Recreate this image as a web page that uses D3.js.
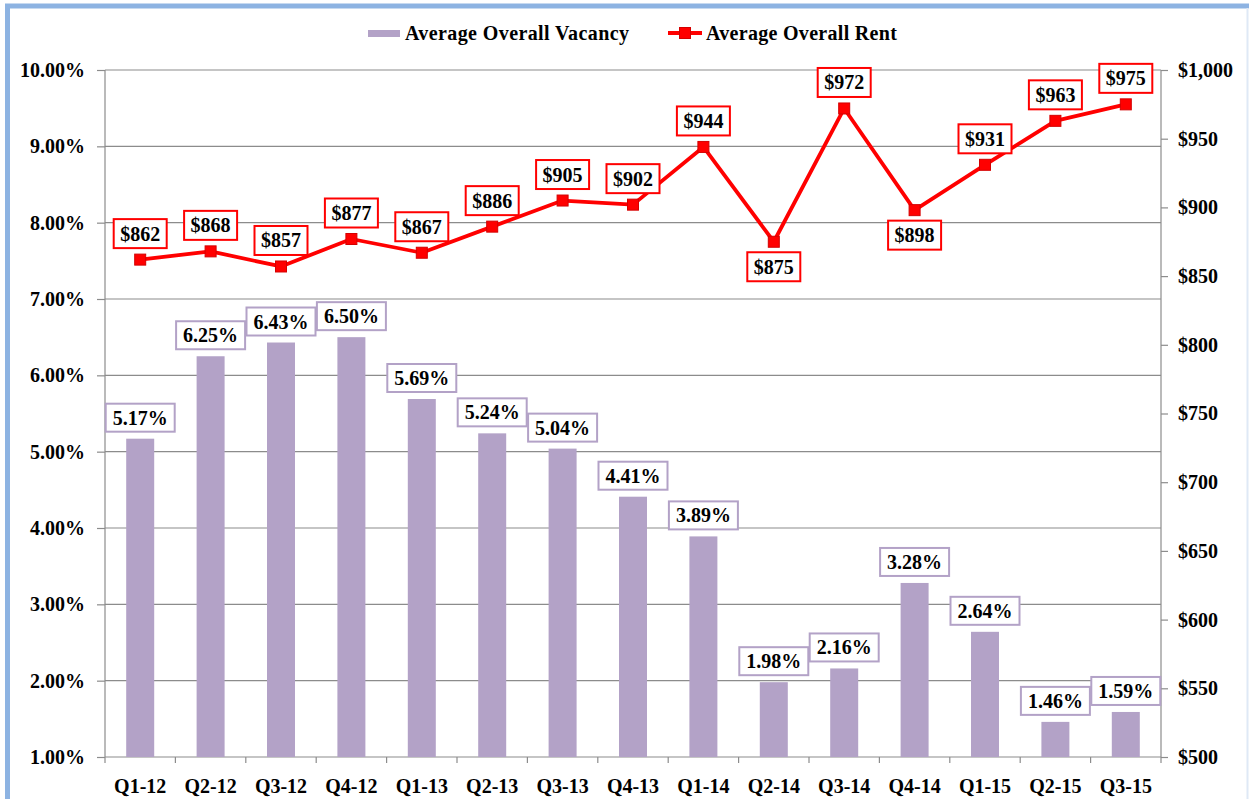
<!DOCTYPE html>
<html>
<head>
<meta charset="utf-8">
<script src="https://cdn.jsdelivr.net/npm/d3@7"></script>
<style>
  body { margin: 0; background: #fff; }
  svg text { font-family: "Liberation Serif", "Times New Roman", serif; font-weight: bold; fill: #000; }
</style>
</head>
<body>
<div id="chart"></div>
<script>
// data
let quarters = ["Q1-12", "Q2-12", "Q3-12", "Q4-12", "Q1-13", "Q2-13", "Q3-13", "Q4-13",
  "Q1-14", "Q2-14", "Q3-14", "Q4-14", "Q1-15", "Q2-15", "Q3-15"];
let vacancy = [5.17, 6.25, 6.43, 6.50, 5.69, 5.24, 5.04, 4.41, 3.89, 1.98, 2.16, 3.28, 2.64, 1.46, 1.59];
let rent = [862, 868, 857, 877, 867, 886, 905, 902, 944, 875, 972, 898, 931, 963, 975];
// labels drawn under the point instead of above
let rentBelow = ["Q2-14", "Q4-14"];
let vacancyTicks = [1, 2, 3, 4, 5, 6, 7, 8, 9, 10];
let rentTicks = [500, 550, 600, 650, 700, 750, 800, 850, 900, 950, 1000];

let width = 1249;
let height = 799;
let margin = {left: 105, right: 1161, top: 70, bottom: 757};
let fontFamily = "'Liberation Serif', 'Times New Roman', serif";

let barColor = "#b3a2c7";
let lineColor = "#ff0000";
let gridColor = "#8c8c8c";

let svg = d3.select("#chart").append("svg")
  .attr("width", width)
  .attr("height", height);

// blue frame round the picture
svg.append("path")
  .attr("d", "M7.5,800 V6 H1249")
  .attr("fill", "none")
  .attr("stroke", "#8db3e2")
  .attr("stroke-width", 5);
svg.append("line")
  .attr("x1", 1247.5).attr("x2", 1247.5).attr("y1", 8).attr("y2", 799)
  .attr("stroke", "#dfe9f6").attr("stroke-width", 2);

let x = d3.scaleBand()
  .domain(quarters)
  .range([margin.left, margin.right]);

let yLeft = d3.scaleLinear()
  .domain([1, 10])
  .range([margin.bottom, margin.top]);

let yRight = d3.scaleLinear()
  .domain([500, 1000])
  .range([margin.bottom, margin.top]);

// gridlines
svg.append("g")
  .selectAll("line")
  .data(vacancyTicks.slice(1))
  .enter().append("line")
    .attr("x1", margin.left)
    .attr("x2", margin.right)
    .attr("y1", d => yLeft(d))
    .attr("y2", d => yLeft(d))
    .attr("stroke", gridColor)
    .attr("stroke-width", 1.2);

// left axis
let leftAxis = svg.append("g")
  .attr("transform", "translate(" + margin.left + ",0)")
  .call(d3.axisLeft(yLeft).tickValues(vacancyTicks).tickSize(8).tickPadding(12)
    .tickFormat(d => d.toFixed(2) + "%"));

// right axis
let rightAxis = svg.append("g")
  .attr("transform", "translate(" + margin.right + ",0)")
  .call(d3.axisRight(yRight).tickValues(rentTicks).tickSize(7).tickPadding(10)
    .tickFormat(d => "$" + d3.format(",")(d)));

// bottom axis, ticks on band edges
let bottomAxis = svg.append("g")
  .attr("transform", "translate(0," + margin.bottom + ")")
  .call(d3.axisBottom(x).tickSize(0).tickPadding(22));
bottomAxis.selectAll(".tick line").remove();
bottomAxis.selectAll(".edge")
  .data(quarters.concat(["end"]))
  .enter().append("line")
    .attr("class", "edge")
    .attr("x1", (d, i) => margin.left + i * x.bandwidth())
    .attr("x2", (d, i) => margin.left + i * x.bandwidth())
    .attr("y1", 0)
    .attr("y2", 6)
    .attr("stroke", gridColor)
    .attr("stroke-width", 1.2);

[leftAxis, rightAxis, bottomAxis].forEach(function(g) {
  g.attr("font-family", null);
  g.selectAll(".domain").attr("stroke", gridColor).attr("stroke-width", 1.2);
  g.selectAll(".tick line").attr("stroke", gridColor).attr("stroke-width", 1.2);
  g.selectAll("text")
    .attr("font-size", 20)
    .style("font-family", fontFamily)
    .style("font-weight", "bold")
    .attr("fill", "#000");
});
leftAxis.select(".domain").attr("d", "M0," + margin.bottom + "V" + margin.top);
rightAxis.select(".domain").attr("d", "M0," + margin.bottom + "V" + margin.top);
bottomAxis.select(".domain").attr("d", "M" + margin.left + ",0H" + margin.right);

// bars
let barWidth = 28;
svg.append("g")
  .selectAll("rect")
  .data(quarters)
  .enter().append("rect")
    .attr("x", d => x(d) + x.bandwidth() / 2 - barWidth / 2)
    .attr("y", (d, i) => yLeft(vacancy[i]))
    .attr("width", barWidth)
    .attr("height", (d, i) => margin.bottom - yLeft(vacancy[i]))
    .attr("fill", barColor);

// rent line
let line = d3.line()
  .x(d => x(d.q) + x.bandwidth() / 2)
  .y(d => yRight(d.v));
let rentData = quarters.map((q, i) => ({q: q, v: rent[i]}));

svg.append("path")
  .datum(rentData)
  .attr("d", line)
  .attr("fill", "none")
  .attr("stroke", lineColor)
  .attr("stroke-width", 3.8)
  .attr("stroke-linejoin", "round");

let markerSize = 11;
svg.append("g")
  .selectAll("rect")
  .data(rentData)
  .enter().append("rect")
    .attr("x", d => x(d.q) + x.bandwidth() / 2 - markerSize / 2)
    .attr("y", d => yRight(d.v) - markerSize / 2)
    .attr("width", markerSize)
    .attr("height", markerSize)
    .attr("fill", lineColor)
    .attr("stroke", "#d40000")
    .attr("stroke-width", 1);

// boxed data labels
function boxLabel(g, cx, cy, txt, color, pad, boxH) {
  let lab = g.append("g");
  let box = lab.append("rect");
  let t = lab.append("text")
    .attr("x", cx)
    .attr("y", cy)
    .attr("dy", "0.35em")
    .attr("text-anchor", "middle")
    .attr("font-size", 20)
    .style("font-family", fontFamily)
    .text(txt);
  let w = t.node().getComputedTextLength() + pad;
  box.attr("x", cx - w / 2)
    .attr("y", cy - boxH / 2)
    .attr("width", w)
    .attr("height", boxH)
    .attr("fill", "#fff")
    .attr("stroke", color)
    .attr("stroke-width", 2);
}

let vacLabels = svg.append("g");
quarters.forEach(function(q, i) {
  boxLabel(vacLabels, x(q) + x.bandwidth() / 2, yLeft(vacancy[i]) - 21,
    vacancy[i].toFixed(2) + "%", barColor, 14, 28);
});

let rentLabels = svg.append("g");
rentData.forEach(function(d) {
  let below = rentBelow.indexOf(d.q) >= 0;
  let cy = below ? yRight(d.v) + 25 : yRight(d.v) - 26;
  boxLabel(rentLabels, x(d.q) + x.bandwidth() / 2, cy, "$" + d.v, lineColor, 13, 29);
});

// legend
let legend = svg.append("g").attr("class", "legend");
legend.append("rect")
  .attr("x", 368).attr("y", 30)
  .attr("width", 32).attr("height", 7)
  .attr("fill", barColor);
legend.append("text")
  .attr("x", 405).attr("y", 40)
  .attr("font-size", 20)
  .style("font-family", fontFamily)
  .style("letter-spacing", "0.4px")
  .text("Average Overall Vacancy");
legend.append("line")
  .attr("x1", 668).attr("x2", 702)
  .attr("y1", 33).attr("y2", 33)
  .attr("stroke", lineColor)
  .attr("stroke-width", 3.8);
legend.append("rect")
  .attr("x", 685 - markerSize / 2).attr("y", 33 - markerSize / 2)
  .attr("width", markerSize).attr("height", markerSize)
  .attr("fill", lineColor)
  .attr("stroke", "#d40000");
legend.append("text")
  .attr("x", 706).attr("y", 40)
  .attr("font-size", 20)
  .style("font-family", fontFamily)
  .style("letter-spacing", "0.3px")
  .text("Average Overall Rent");
</script>
</body>
</html>
